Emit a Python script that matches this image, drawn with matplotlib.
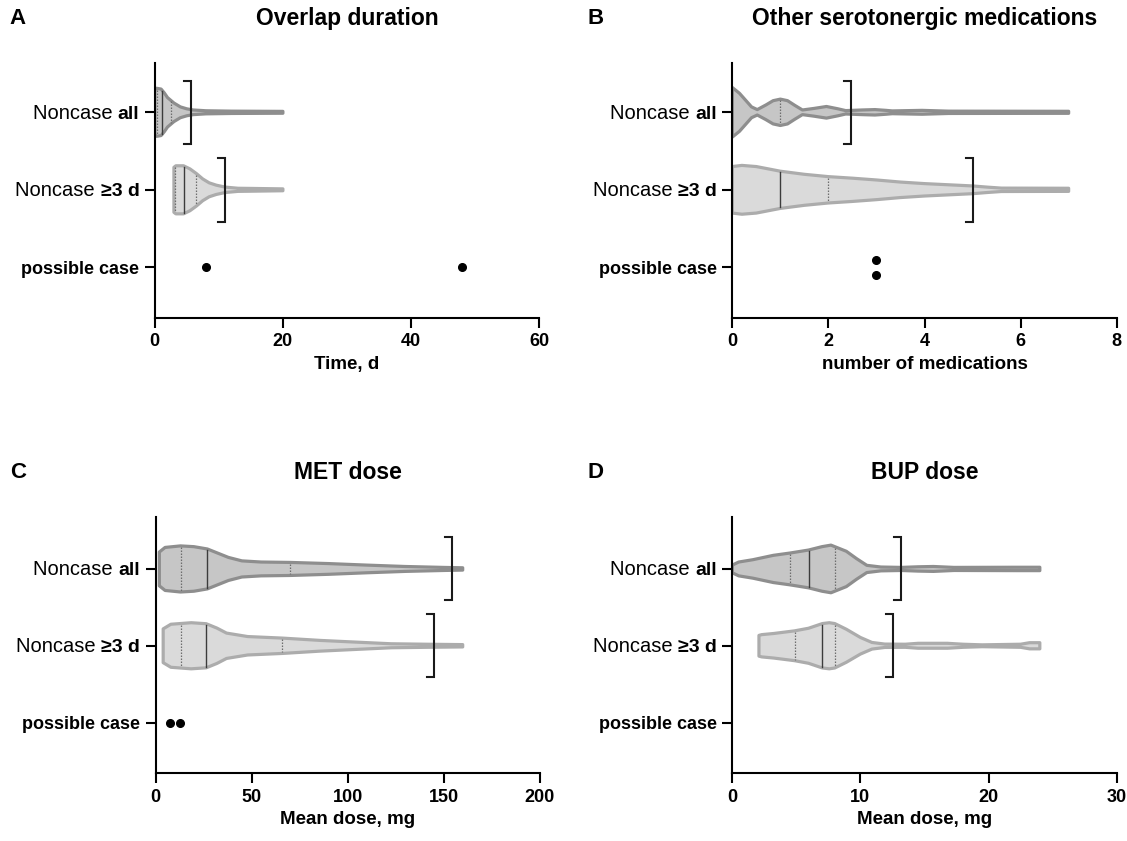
import matplotlib
matplotlib.use("Agg")
import matplotlib.pyplot as plt
import numpy as np

plt.rcParams["font.family"] = ["Liberation Sans", "DejaVu Sans"]

W, H = 1127, 841

categories = ["Noncase all", "Noncase \u22653 d", "possible case"]

# violin outlines: value positions and half widths (category units)
# quartiles as [q1, median, q3]; None where no line is drawn
# A: overlap duration (days)
a_all_x = [0, 0.3, 1.0, 1.5, 2.0, 3.0, 4.0, 5.0, 6.0, 8.0, 12, 20]
a_all_hw = [0.29, 0.31, 0.30, 0.25, 0.19, 0.12, 0.07, 0.045, 0.03, 0.02, 0.015, 0.012]
a_all_q = [0.4, 1.1, 2.5]
a_3d_x = [3, 3.3, 4.5, 5.5, 6.5, 7.5, 8.5, 9.6, 11, 13, 15, 20]
a_3d_hw = [0.29, 0.31, 0.31, 0.27, 0.21, 0.14, 0.09, 0.06, 0.035, 0.02, 0.018, 0.012]
a_3d_q = [3.2, 4.5, 6.5]
a_brackets = [5.7, 11.0]
a_cases = [8, 48]

# B: other serotonergic medications (count)
b_all_x = [0, 0.15, 0.3, 0.4, 0.52, 0.7, 0.85, 1.0, 1.15, 1.3, 1.46, 1.7, 1.96, 2.2, 2.36,
           2.7, 2.97, 3.2, 3.33, 3.95, 4.5, 7.0]
b_all_hw = [0.32, 0.245, 0.14, 0.07, 0.035, 0.095, 0.15, 0.17, 0.15, 0.09, 0.03, 0.05, 0.075,
            0.045, 0.022, 0.03, 0.035, 0.025, 0.018, 0.025, 0.015, 0.013]
b_all_q = [None, None, 1.0]
b_3d_x = [0, 0.2, 0.5, 1.0, 1.5, 2.0, 2.5, 3.0, 3.5, 4.0, 4.5, 5.0, 5.3, 5.6, 7.0]
b_3d_hw = [0.30, 0.315, 0.30, 0.24, 0.20, 0.17, 0.15, 0.127, 0.10, 0.08, 0.065, 0.05, 0.035,
           0.022, 0.02]
b_3d_q = [None, 1.0, 2.0]
b_brackets = [2.48, 5.0]
b_cases = [3, 3]

# C: MET dose (mg)
c_all_x = [2, 5, 13, 20, 27, 33, 38, 45, 55, 70, 90, 110, 130, 150, 160]
c_all_hw = [0.22, 0.28, 0.30, 0.29, 0.26, 0.20, 0.15, 0.105, 0.09, 0.085, 0.07, 0.05, 0.032,
            0.02, 0.015]
c_all_q = [13.5, 27, 70]
c_3d_x = [4, 8, 18.6, 26.4, 32, 37, 48, 66, 85.6, 104, 122.8, 141, 160]
c_3d_hw = [0.22, 0.28, 0.30, 0.287, 0.23, 0.165, 0.12, 0.10, 0.07, 0.048, 0.026, 0.02, 0.015]
c_3d_q = [13.4, 26.4, 66]
c_brackets = [154.4, 145.1]
c_cases = [7.5, 13]

# D: BUP dose (mg)
d_all_x = [0, 0.5, 1.6, 3.2, 4.5, 5.95, 7.0, 7.7, 8.0, 8.9, 9.7, 10.5, 11.6, 13.2, 14.5,
           15.7, 17.3, 22.2, 24]
d_all_hw = [0.05, 0.09, 0.12, 0.177, 0.207, 0.246, 0.29, 0.31, 0.29, 0.23, 0.134, 0.047,
            0.025, 0.02, 0.028, 0.032, 0.02, 0.022, 0.022]
d_all_q = [4.5, 5.95, 8.0]
d_3d_x = [2.08, 2.3, 3.24, 4.86, 5.95, 7.03, 7.57, 8.0, 8.9, 10.0, 10.9, 11.9, 13.5, 14.5,
          16.8, 18, 19.5, 22.5, 23.2, 24]
d_3d_hw = [0.135, 0.145, 0.16, 0.194, 0.228, 0.289, 0.30, 0.289, 0.215, 0.108, 0.043, 0.022,
           0.02, 0.032, 0.032, 0.02, 0.012, 0.02, 0.04, 0.04]
d_3d_q = [4.86, 7.03, 8.0]
d_brackets = [13.2, 12.57]
d_cases = []

panels = [
    dict(letter="A", title="Overlap duration", xlabel="Time, d", xlim=60, xticks=[0, 20, 40, 60],
         all=(a_all_x, a_all_hw, a_all_q), d3=(a_3d_x, a_3d_hw, a_3d_q),
         brackets=a_brackets, cases=a_cases, rect=(154.7, 62.7, 539.3, 317.7), ylim=(3.65, 0.36)),
    dict(letter="B", title="Other serotonergic medications", xlabel="number of medications",
         xlim=8, xticks=[0, 2, 4, 6, 8],
         all=(b_all_x, b_all_hw, b_all_q), d3=(b_3d_x, b_3d_hw, b_3d_q),
         brackets=b_brackets, cases=b_cases, rect=(732.3, 62.7, 1116.7, 317.7), ylim=(3.65, 0.36)),
    dict(letter="C", title="MET dose", xlabel="Mean dose, mg", xlim=200,
         xticks=[0, 50, 100, 150, 200],
         all=(c_all_x, c_all_hw, c_all_q), d3=(c_3d_x, c_3d_hw, c_3d_q),
         brackets=c_brackets, cases=c_cases, rect=(155.5, 516.7, 539.5, 773.3), ylim=(3.66, 0.32)),
    dict(letter="D", title="BUP dose", xlabel="Mean dose, mg", xlim=30, xticks=[0, 10, 20, 30],
         all=(d_all_x, d_all_hw, d_all_q), d3=(d_3d_x, d_3d_hw, d_3d_q),
         brackets=d_brackets, cases=d_cases, rect=(732.3, 516.7, 1116.7, 773.3), ylim=(3.66, 0.32)),
]

styles = [dict(fc="#c6c6c6", ec="#8e8e8e"), dict(fc="#dadada", ec="#acacac")]

fig = plt.figure(figsize=(W / 100, H / 100), dpi=100)


def draw_violin(ax, y, xs, hws, qs, st):
    xs = np.asarray(xs, float)
    hws = np.asarray(hws, float)
    px = np.concatenate([xs, xs[::-1]])
    py = np.concatenate([y - hws, (y + hws)[::-1]])
    ax.fill(px, py, facecolor=st["fc"], edgecolor=st["ec"], linewidth=2.3,
            joinstyle="round", zorder=2)
    for i, q in enumerate(qs):
        if q is None:
            continue
        h = np.interp(q, xs, hws) - 0.015
        if i == 1:
            ax.plot([q, q], [y - h, y + h], color="#3c3c3c", lw=1.0, zorder=3)
        else:
            ax.plot([q, q], [y - h, y + h], color="#6e6e6e", lw=0.9, ls=(0, (1.2, 1.2)), zorder=3)


for p in panels:
    l, t, r, b = p["rect"]
    ax = fig.add_axes([l / W, 1 - b / H, (r - l) / W, (b - t) / H])
    ax.set_xlim(0, p["xlim"])
    ax.set_ylim(*p["ylim"])
    for s in ["top", "right"]:
        ax.spines[s].set_visible(False)
    for s in ["left", "bottom"]:
        ax.spines[s].set_linewidth(1.5)
    ax.tick_params(length=7, width=1.5, color="black")
    ax.set_xticks(p["xticks"])
    ax.set_xticklabels([str(v) for v in p["xticks"]], fontsize=13, fontweight="bold")
    ax.tick_params(axis="x", pad=4)
    ax.set_yticks([1, 2, 3])
    ax.set_yticklabels(["", "", ""])
    ax.set_xlabel(p["xlabel"], fontsize=13.5, fontweight="bold", labelpad=4)

    draw_violin(ax, 1, *p["all"], styles[0])
    draw_violin(ax, 2, *p["d3"], styles[1])

    # brackets
    d = 7 * p["xlim"] / (r - l)
    for y, bx in zip([1, 2], p["brackets"]):
        ax.plot([bx - d, bx, bx, bx - d], [y - 0.41, y - 0.41, y + 0.41, y + 0.41],
                color="#1a1a1a", lw=1.5, solid_joinstyle="miter", zorder=4)

    # possible cases
    if p["cases"]:
        cx = np.array(p["cases"], float)
        cy = np.full(len(cx), 3.0)
        if len(cx) == 2 and cx[0] == cx[1]:
            cy = np.array([2.9, 3.1])
        ax.plot(cx, cy, "o", color="black", ms=5.5, zorder=4, clip_on=False)

    # y tick labels with mixed weights
    tr = ax.get_yaxis_transform()
    bold_parts = ["all", "\u22653 d"]
    for y, bp in zip([1, 2], bold_parts):
        tb = ax.annotate(bp, xy=(0, y), xycoords=tr, xytext=(-11, 0), textcoords="offset points",
                         ha="right", va="center_baseline", fontsize=14, fontweight="bold")
        ax.annotate("Noncase ", xy=(0, 0), xycoords=tb, ha="right", va="bottom",
                    fontsize=14.5)
    ax.annotate("possible case", xy=(0, 3), xycoords=tr, xytext=(-11, 0),
                textcoords="offset points", ha="right", va="center_baseline",
                fontsize=13, fontweight="bold")

    fig.text((l + r) / 2 / W, 1 - (t - 44) / H, p["title"], ha="center", va="center",
             fontsize=16.5, fontweight="bold")
    fig.text((l - 137) / W, 1 - (t - 44) / H, p["letter"], ha="center", va="center",
             fontsize=16, fontweight="bold")

fig.savefig("out.png", dpi=100)
